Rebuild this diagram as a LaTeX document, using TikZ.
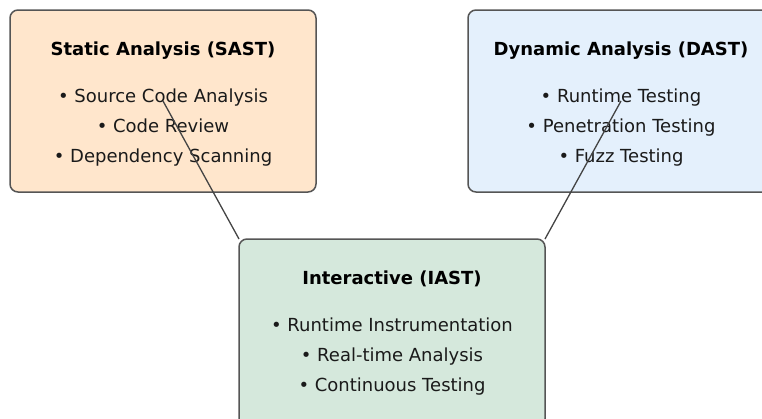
\documentclass[tikz,border=0pt]{standalone}
\usepackage{fontspec}
\setmainfont{DejaVu Sans}
\definecolor{sastfill}{HTML}{FFE6CC}
\definecolor{dastfill}{HTML}{E4F0FC}
\definecolor{iastfill}{HTML}{D5E8DC}
\definecolor{edgegray}{HTML}{555555}
\definecolor{linkgray}{HTML}{444444}
\definecolor{inkdark}{HTML}{1A1A1A}
\tikzset{
  panel/.style={draw=edgegray, line width=1.5pt, rounded corners=8pt,
    minimum width=306pt, minimum height=182pt, inner sep=0pt, outer sep=0pt},
  paneltitle/.style={anchor=base, inner sep=0pt, font=\fontsize{18}{22}\selectfont\bfseries, text=black},
  panelitem/.style={anchor=base, inner sep=0pt, font=\fontsize{18}{22}\selectfont, text=inkdark},
  link/.style={draw=linkgray, line width=1.3pt}
}
\begin{document}
\begin{tikzpicture}[x=1pt, y=-1pt]
  \useasboundingbox (0,0) rectangle (762,418);
  \begin{scope}
    \clip (0,0) rectangle (762,418);

    % Static analysis
    \node[panel, fill=sastfill] (sast) at (163,101) {};
    \node[paneltitle] (sastT) at (163,55) {Static Analysis (SAST)};
    \node[panelitem] (sast1) at (163,102) {• Source Code Analysis};
    \node[panelitem] (sast2) at (163,132) {• Code Review};
    \node[panelitem] (sast3) at (163,162) {• Dependency Scanning};

    % Dynamic analysis
    \node[panel, fill=dastfill] (dast) at (621,101) {};
    \node[paneltitle] (dastT) at (621,55) {Dynamic Analysis (DAST)};
    \node[panelitem] (dast1) at (621,102) {• Runtime Testing};
    \node[panelitem] (dast2) at (621,132) {• Penetration Testing};
    \node[panelitem] (dast3) at (621,162) {• Fuzz Testing};

    % Interactive analysis (runs past the lower edge)
    \node[panel, fill=iastfill, minimum height=188pt] (iast) at (392,333) {};
    \node[paneltitle] (iastT) at (392,284) {Interactive (IAST)};
    \node[panelitem] (iast1) at (392,331) {• Runtime Instrumentation};
    \node[panelitem] (iast2) at (392,361) {• Real-time Analysis};
    \node[panelitem] (iast3) at (392,391) {• Continuous Testing};

    % Links into the interactive panel
    \draw[link] (sast.center) -- (iast.north west);
    \draw[link] (dast.center) -- (iast.north east);
  \end{scope}
\end{tikzpicture}
\end{document}
